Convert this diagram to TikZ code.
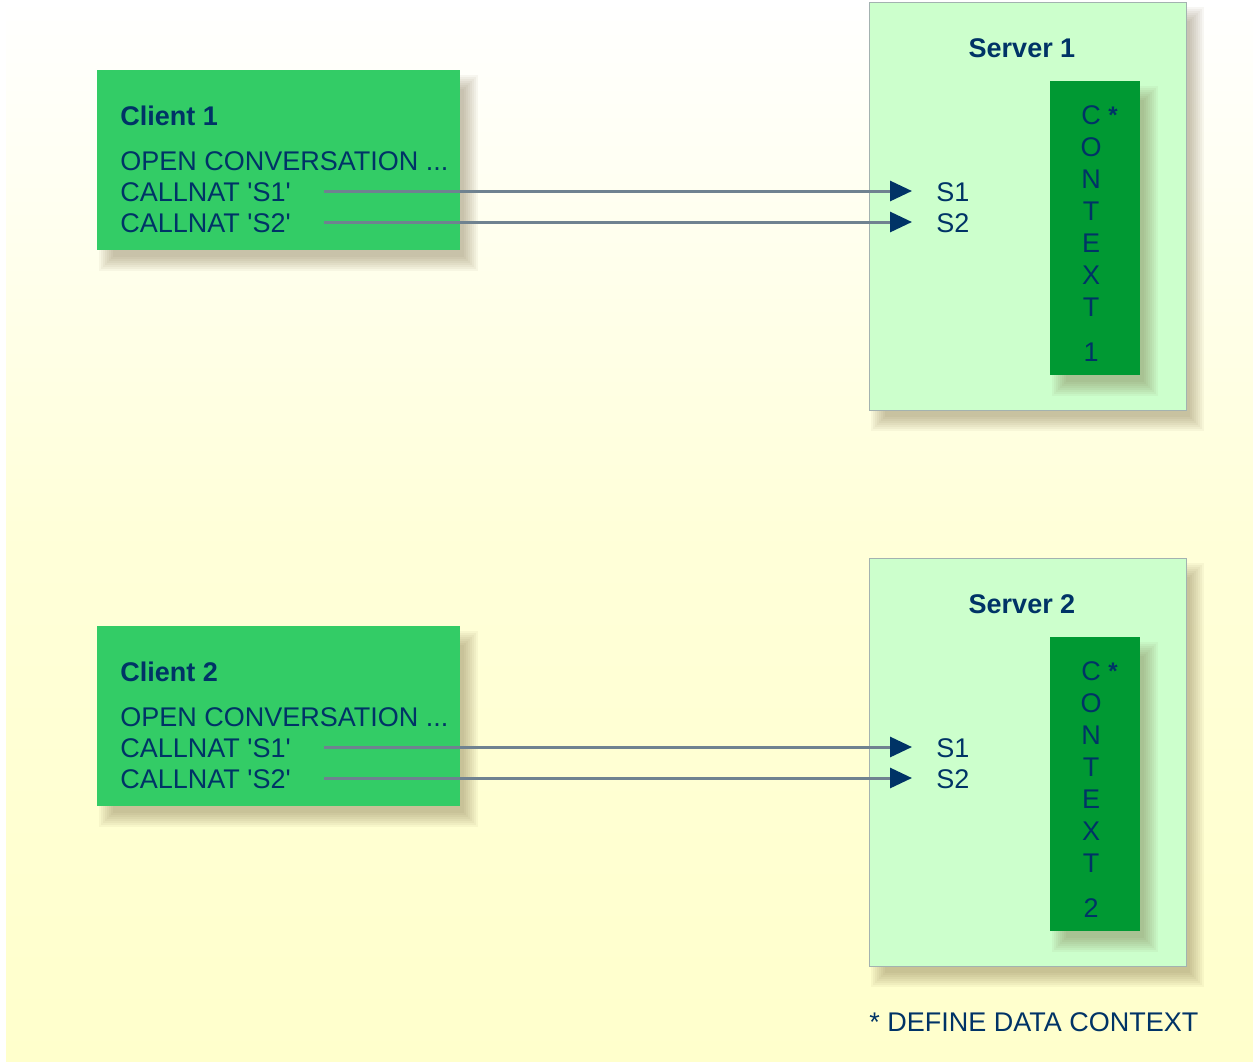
\documentclass[tikz,border=0pt]{standalone}
\usepackage{fontspec}
\setmainfont{Liberation Sans}
\usetikzlibrary{arrows.meta}
\definecolor{navy}{HTML}{003366}
\definecolor{clientgreen}{HTML}{33CC66}
\definecolor{servergreen}{HTML}{CCFFCC}
\definecolor{contextgreen}{HTML}{009933}
\definecolor{bgyellow}{HTML}{FFFFCC}
\definecolor{callgray}{HTML}{6F8290}
\definecolor{framegray}{HTML}{A3B2B0}
\definecolor{shadowbrown}{HTML}{6B5530}
% soft drop shadow under a box given by its corners
\newcommand{\softshadow}[4]{%
  \foreach \e in {-6,-4,-2,0,2,4,6,8}
    \fill[shadowbrown, opacity=.05] ({#1+10-\e},{#2+13-\e}) rectangle ({#3+10+\e},{#4+13+\e});}
\tikzset{
  txt/.style={text=navy, font=\fontsize{13.5}{16}\selectfont, inner sep=0pt, text height=10pt, text depth=0pt},
  boldtxt/.style={txt, font=\fontsize{13.5}{16}\selectfont\bfseries},
  clientbox/.style={fill=clientgreen, anchor=north west, inner sep=0pt, minimum width=181.5pt, minimum height=90pt},
  serverbox/.style={fill=servergreen, draw=framegray, line width=.6pt, anchor=north west, inner sep=0pt, minimum width=158.5pt, minimum height=204pt},
  contextbox/.style={fill=contextgreen, anchor=north west, inner sep=0pt, minimum width=45pt, minimum height=147pt},
  call/.style={draw=callgray, line width=1.5pt, shorten <=16.5pt, shorten >=12pt, -{Triangle[length=11pt,width=10pt,color=navy]}}
}
\begin{document}
\begin{tikzpicture}[x=0.5pt,y=-0.5pt]
\useasboundingbox (0,0) rectangle (1253,1061);
\fill[white] (0,0) rectangle (1253,1061);
\shade[top color=white, bottom color=bgyellow, middle color=bgyellow!75] (6,0) rectangle (1253,1061);
% one client and its server per row
\foreach \i in {1,2} {
\begin{scope}[shift={(0,{(\i-1)*556})}]
\softshadow{869}{2}{1186}{410}
\node[serverbox] (server\i) at (869,2) {};
\softshadow{1050}{81}{1140}{375}
\node[contextbox] (context\i) at (1050,81) {};
\softshadow{97}{70}{460}{250}
\node[clientbox] (client\i) at (97,70) {};
\node[boldtxt, anchor=base west] (c\i title) at (120,125) {Client \i};
\node[txt, anchor=base west] (c\i open) at (120,170) {OPEN CONVERSATION ...};
\node[txt, anchor=base west] (c\i s1) at (120,201) {CALLNAT \textquotesingle S1\textquotesingle};
\node[txt, anchor=base west] (c\i s2) at (120,232) {CALLNAT \textquotesingle S2\textquotesingle};
\node[boldtxt, anchor=base] (srv\i title) at (1022,57) {Server \i};
\node[txt, anchor=base west] (srv\i s1) at (936,201) {S1};
\node[txt, anchor=base west] (srv\i s2) at (936,232) {S2};
\foreach \ch [count=\k from 0] in {C,O,N,T,E,X,T}
  \node[txt, anchor=base] (ctx\i-\k) at (1091,124+32*\k) {\ch};
\node[txt, anchor=base] (ctx\i-num) at (1091,361) {\i};
\node[txt, font=\fontsize{12}{14}\selectfont\bfseries, anchor=center] (ctx\i-star) at (1113,113) {*};
\draw[call] (c\i s1.east) -- (srv\i s1.west);
\draw[call] (c\i s2.east) -- (srv\i s2.west);
\end{scope}
}
\node[txt, anchor=base west] (note) at (869,1031) {* DEFINE DATA CONTEXT};
\end{tikzpicture}
\end{document}
